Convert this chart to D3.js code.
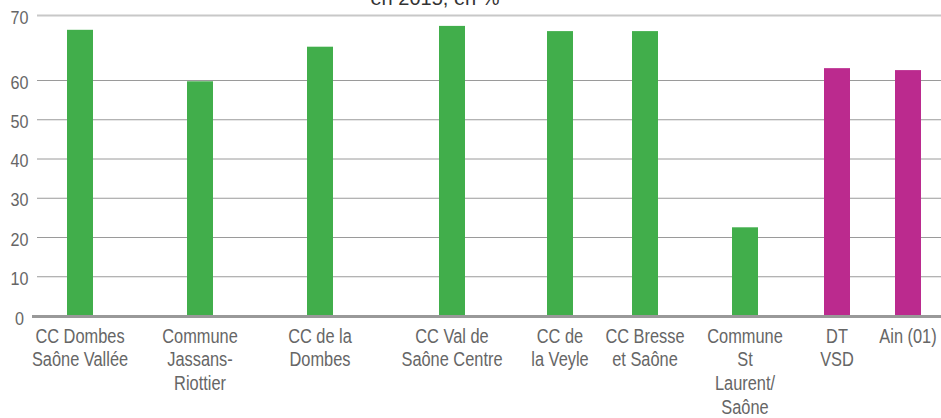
<!DOCTYPE html>
<html>
<head>
<meta charset="utf-8">
<script src="https://cdn.jsdelivr.net/npm/d3@7"></script>
<style>
  html, body { margin: 0; padding: 0; background: #fff; }
  svg { display: block; }
</style>
</head>
<body>
<svg id="chart" width="941" height="418"></svg>
<script>
// ---- data ----
const categories = [
  ["CC Dombes", "Saône Vallée"],
  ["Commune", "Jassans-", "Riottier"],
  ["CC de la", "Dombes"],
  ["CC Val de", "Saône Centre"],
  ["CC de", "la Veyle"],
  ["CC Bresse", "et Saône"],
  ["Commune", "St", "Laurent/", "Saône"],
  ["DT", "VSD"],
  ["Ain (01)"]
];
const values = [67.8, 59.8, 65.2, 68.4, 67.6, 67.6, 22.6, 61.9, 61.6];
const groups = ["com", "com", "com", "com", "com", "com", "com", "ref", "ref"];
const yTicks = [0, 10, 20, 30, 40, 50, 60, 70];
const titleText = "en 2015, en %";

// ---- layout ----
const W = 941, H = 418;
const barWidth = 26;
const slotCenters = [80, 200, 320, 452, 560, 645, 745, 837, 908];
const colors = { com: "#41ae4b", ref: "#bb2a8e" };
const narrowFont = "'Liberation Sans', Arial, sans-serif";

const svg = d3.select("#chart");

const idx = d3.range(categories.length);
const x = d3.scaleOrdinal().domain(idx).range(slotCenters);
const y = d3.scaleLinear().domain([0, 60, 70]).range([316, 80.5, 15.5]);

// title (cropped at the top edge, as in the source image)
svg.append("text")
  .attr("x", 435).attr("y", 5)
  .attr("text-anchor", "middle")
  .attr("font-family", "'Liberation Sans', Arial, sans-serif")
  .attr("font-size", 20)
  .attr("fill", "#333")
  .text(titleText);

// gridlines
svg.append("g").selectAll("line")
  .data(yTicks.filter(d => d !== 0))
  .join("line")
  .attr("x1", 37).attr("x2", W)
  .attr("y1", d => y(d)).attr("y2", d => y(d))
  .attr("stroke", d => d === 70 ? "#c8c8c8" : "#9a9a9a")
  .attr("stroke-width", d => d === 70 ? 2 : 1);

// y tick labels
svg.append("g").selectAll("text")
  .data(yTicks)
  .join("text")
  .attr("transform", d => `translate(19.5,${y(d) + (d === 0 ? 9 : 8)}) scale(0.85,1)`)
  .attr("text-anchor", "middle")
  .attr("font-family", narrowFont)
  .attr("font-size", 19)
  .attr("fill", "#666")
  .text(d => d);

// bars
svg.append("g").selectAll("rect")
  .data(idx)
  .join("rect")
  .attr("x", i => x(i) - barWidth / 2)
  .attr("width", barWidth)
  .attr("y", i => y(values[i]))
  .attr("height", i => y(0) - y(values[i]))
  .attr("fill", i => colors[groups[i]]);

// baseline axis
svg.append("line")
  .attr("x1", 32).attr("x2", W)
  .attr("y1", y(0) + 0.5).attr("y2", y(0) + 0.5)
  .attr("stroke", "#999")
  .attr("stroke-width", 3);

// category labels
const lab = svg.append("g").selectAll("text")
  .data(idx)
  .join("text")
  .attr("transform", i => `translate(${x(i)},342.5) scale(0.78,1)`)
  .attr("text-anchor", "middle")
  .attr("font-family", narrowFont)
  .attr("font-size", 21)
  .attr("fill", "#666");
lab.selectAll("tspan")
  .data(i => categories[i])
  .join("tspan")
  .attr("x", 0)
  .attr("dy", (d, j) => j === 0 ? 0 : 24)
  .text(d => d);
</script>
</body>
</html>
